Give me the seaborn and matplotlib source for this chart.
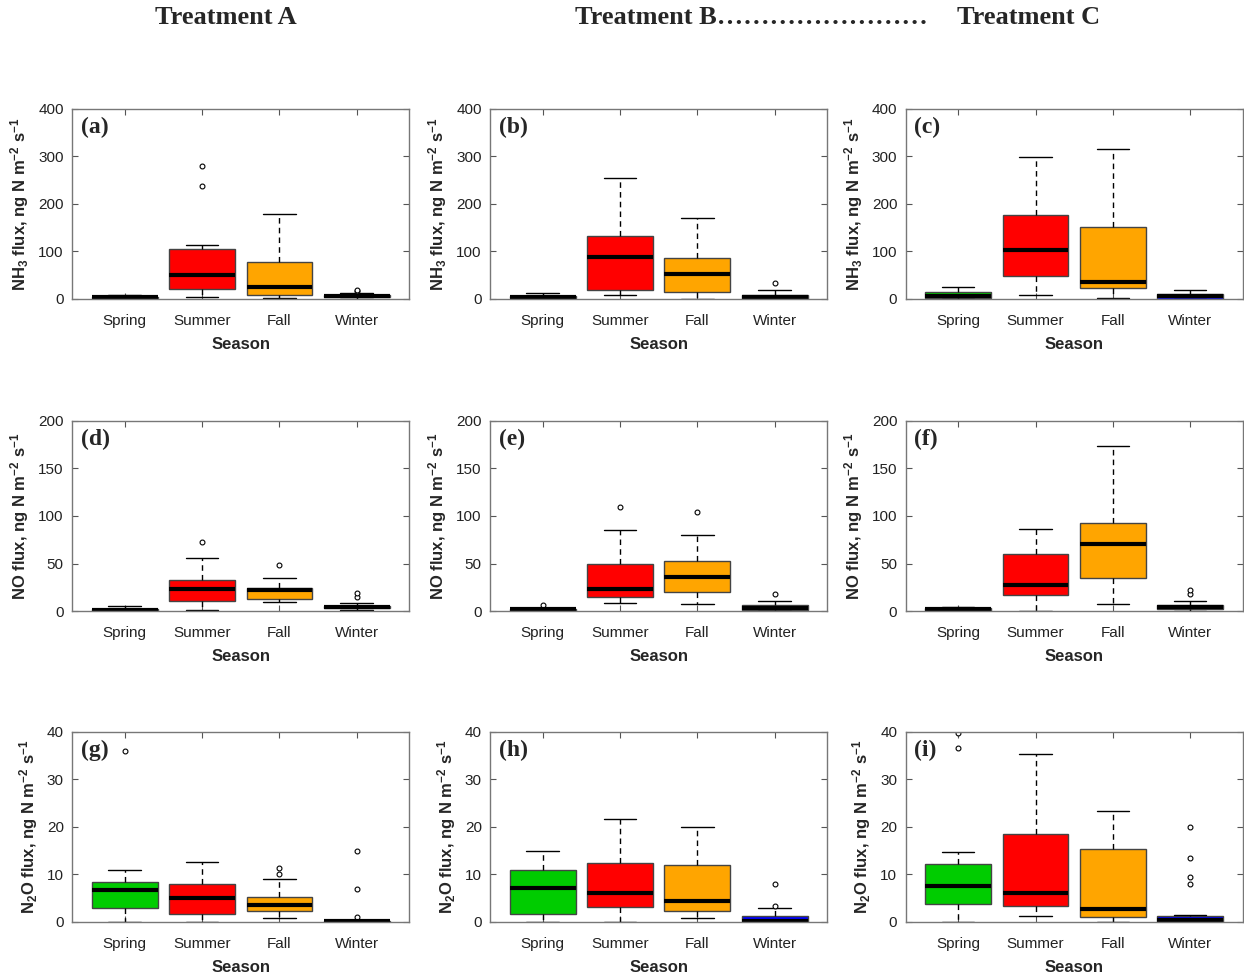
import numpy as np
import matplotlib
matplotlib.use("Agg")
import matplotlib.pyplot as plt
import seaborn as sns

seasons = ["Spring", "Summer", "Fall", "Winter"]
season_colors = ["#00cc00", "#ff0000", "#ffa500", "#0000ff"]

# five-number summaries: [whislo, q1, med, q3, whishi]
# one list per panel (a)..(i), one row per season
nh3_a = [[0, 1, 3, 5, 8], [3.5, 20, 51, 106, 113], [1, 8.4, 24, 77, 179], [0, 3.5, 5.6, 8.4, 12]]
nh3_b = [[0, 1, 5, 7, 12], [8.4, 18, 88, 133, 254], [0.7, 14, 53, 86, 170], [0, 0.5, 5, 8.4, 19]]
nh3_c = [[0, 1, 7, 14.7, 26], [7.7, 47.6, 102, 176, 299], [1.4, 23, 36, 152, 315], [0, 0.5, 5.6, 9.8, 19.6]]
no_d = [[0, 0, 1.4, 2.2, 5.2], [0.7, 10.5, 23, 32.5, 56], [9.4, 13, 22, 24.4, 35], [0.7, 2.8, 4.2, 5.6, 8]]
no_e = [[0, 0, 1.7, 2.4, 3], [8.7, 14.3, 22.7, 49, 85.5], [7.3, 20, 36, 53, 80], [0, 1.4, 3.5, 6, 10.5]]
no_f = [[0, 0, 1.7, 2.8, 4.2], [0.3, 16.4, 27, 59.7, 86], [7.3, 34.5, 71, 93, 174], [0, 1.7, 4.2, 6.3, 11]]
n2o_g = [[0, 2.9, 6.7, 8.4, 11], [0.1, 1.7, 5, 7.9, 12.6], [0.8, 2.4, 3.6, 5.3, 9], [0, 0, 0.15, 0.3, 0.5]]
n2o_h = [[0, 1.75, 7.2, 11, 14.9], [0.1, 3.2, 6.1, 12.4, 21.6], [0.8, 2.3, 4.4, 12, 19.9], [0, 0, 0.3, 1.2, 3]]
n2o_i = [[0, 3.8, 7.5, 12.3, 14.7], [1.3, 3.3, 6, 18.6, 35.3], [0, 1, 2.7, 15.4, 23.4], [0, 0, 0.4, 1.3, 1.4]]

# outliers per season
out_a = [[], [237, 280], [], [16, 18]]
out_b = [[], [], [], [33.6]]
out_c = [[], [], [], []]
out_d = [[], [73], [48], [15, 19]]
out_e = [[6.3], [109.6], [104.7], [17.8]]
out_f = [[], [], [], [18, 22]]
out_g = [[36], [], [10, 11.4], [1, 7, 15]]
out_h = [[], [], [], [3.4, 8]]
out_i = [[36.5, 39.8], [], [], [8, 9.4, 13.4, 20]]

panels = [
    ("(a)", nh3_a, out_a, 400, 100, "NH$_3$ flux, ng N m$^{-2}$ s$^{-1}$"),
    ("(b)", nh3_b, out_b, 400, 100, "NH$_3$ flux, ng N m$^{-2}$ s$^{-1}$"),
    ("(c)", nh3_c, out_c, 400, 100, "NH$_3$ flux, ng N m$^{-2}$ s$^{-1}$"),
    ("(d)", no_d, out_d, 200, 50, "NO flux, ng N m$^{-2}$ s$^{-1}$"),
    ("(e)", no_e, out_e, 200, 50, "NO flux, ng N m$^{-2}$ s$^{-1}$"),
    ("(f)", no_f, out_f, 200, 50, "NO flux, ng N m$^{-2}$ s$^{-1}$"),
    ("(g)", n2o_g, out_g, 40, 10, "N$_2$O flux, ng N m$^{-2}$ s$^{-1}$"),
    ("(h)", n2o_h, out_h, 40, 10, "N$_2$O flux, ng N m$^{-2}$ s$^{-1}$"),
    ("(i)", n2o_i, out_i, 40, 10, "N$_2$O flux, ng N m$^{-2}$ s$^{-1}$"),
]

sns.set_style("ticks")
plt.rcParams["font.family"] = ["Liberation Sans", "DejaVu Sans"]
plt.rcParams["mathtext.fontset"] = "custom"
plt.rcParams["mathtext.rm"] = "Liberation Sans:bold"
plt.rcParams["mathtext.it"] = "Liberation Sans:bold"
plt.rcParams["mathtext.bf"] = "Liberation Sans:bold"
plt.rcParams["mathtext.default"] = "bf"

fig = plt.figure(figsize=(12.44, 9.8), dpi=100)

col_left = [0.058, 0.394, 0.728]
row_bottom = [0.695, 0.3765, 0.0592]
ax_w, ax_h = 0.271, 0.194

for k, (tag, summ, outs, ymax, ystep, ylab) in enumerate(panels):
    r, c = divmod(k, 3)
    ax = fig.add_axes([col_left[c], row_bottom[r], ax_w, ax_h])
    stats = []
    for s, o, name in zip(summ, outs, seasons):
        stats.append(dict(whislo=s[0], q1=s[1], med=s[2], q3=s[3], whishi=s[4],
                          fliers=o, label=name))
    bp = ax.bxp(stats, positions=[1, 2, 3, 4], widths=0.85, capwidths=0.42,
                patch_artist=True,
                boxprops=dict(edgecolor="#444444", linewidth=1),
                medianprops=dict(color="black", linewidth=3),
                whiskerprops=dict(color="black", linewidth=1, linestyle=(0, (4, 3))),
                capprops=dict(color="black", linewidth=1),
                flierprops=dict(marker="o", markersize=3.5, markerfacecolor="white",
                                markeredgecolor="black", markeredgewidth=0.8))
    for patch, col in zip(bp["boxes"], season_colors):
        patch.set_facecolor(col)
    ax.set_xlim(0.32, 4.68)
    ax.set_ylim(0, ymax)
    ax.set_yticks(np.arange(0, ymax + 1, ystep))
    ax.set_xticklabels(seasons)
    ax.tick_params(direction="in", top=True, right=True, length=4,
                   labelsize=11, color="#555555", labelcolor="#222222")
    ax.tick_params(axis="x", pad=11)
    ax.tick_params(axis="y", pad=6)
    for sp in ax.spines.values():
        sp.set_color("#777777")
        sp.set_linewidth(1)
    ax.set_xlabel("Season", fontsize=12, fontweight="bold", labelpad=6)
    ax.set_ylabel(ylab, fontsize=12, fontweight="bold", labelpad=5)
    ax.text(0.025, 0.9, tag, transform=ax.transAxes, fontsize=17,
            fontweight="bold", family="Liberation Serif", va="center", ha="left")

fig.text(155 / 1244, 1 - 18 / 980, "Treatment A", fontsize=19, fontweight="bold",
         family="Liberation Serif", va="center", ha="left")
fig.text(575 / 1244, 1 - 18 / 980, "Treatment B" + "\u2026" * 8, fontsize=19,
         fontweight="bold", family="Liberation Serif", va="center", ha="left")
fig.text(1100 / 1244, 1 - 18 / 980, "Treatment C", fontsize=19, fontweight="bold",
         family="Liberation Serif", va="center", ha="right")

fig.savefig("out.png", dpi=100)
